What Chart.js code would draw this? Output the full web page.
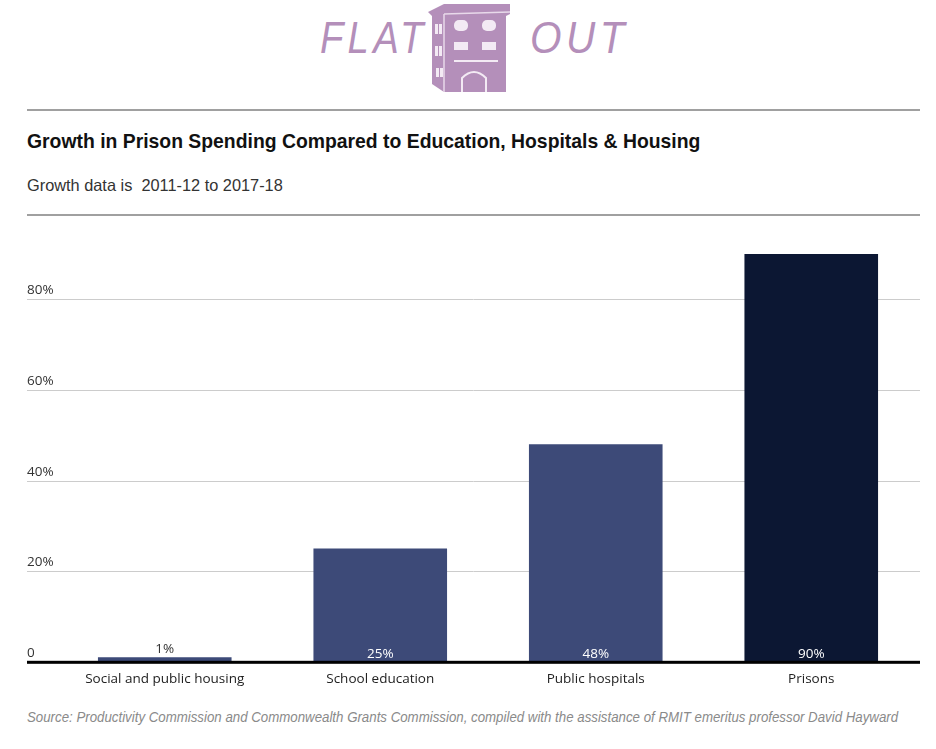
<!DOCTYPE html>
<html>
<head>
<meta charset="utf-8">
<script src="https://cdn.jsdelivr.net/npm/chart.js@4.4.0/dist/chart.umd.min.js"></script>
<style>
  body { margin: 0; background: #fff; width: 936px; height: 749px; overflow: hidden; position: relative; font-family: "Open Sans", sans-serif; }
  .logo { position: absolute; top: 0; left: 0; width: 936px; height: 100px; }
  .logo .word { position: absolute; top: 12px; font-family: "Liberation Sans", sans-serif; font-style: italic; font-size: 45px; color: #b48fba; letter-spacing: 5px; white-space: nowrap; }
  .rule { position: absolute; left: 27px; width: 893px; height: 2px; background: #a0a0a0; }
  h1 { position: absolute; left: 27px; top: 129px; margin: 0; font-family: "Liberation Sans", sans-serif; font-weight: bold; font-size: 21px; color: #111; white-space: nowrap; transform: scaleX(0.922); transform-origin: left top; }
  .sub { position: absolute; left: 27px; top: 176px; font-family: "Liberation Sans", sans-serif; font-size: 16.5px; color: #333; white-space: nowrap; transform: scaleX(0.99); transform-origin: left top; }
  .src { position: absolute; left: 27px; top: 709px; font-family: "Liberation Sans", sans-serif; font-style: italic; font-size: 14px; color: #8a8a8a; white-space: nowrap; transform: scaleX(0.948); transform-origin: left top; }
  #wrap { position: absolute; left: 0; top: 240px; width: 936px; height: 456px; }
</style>
</head>
<body>
<div class="logo">
  <div class="word" style="left:320px; transform: scaleX(0.85); transform-origin: left top;">FLAT</div>
  <svg style="position:absolute;left:424px;top:0;" width="90" height="96" viewBox="0 0 90 96">
    <polygon points="4,12 20,4 86,4 86,14 82,16 82,92 20,92 8,84 8,16" fill="#b48fba"/>
    <line x1="20" y1="14" x2="20" y2="92" stroke="#e8d9ea" stroke-width="1.5"/>
    <line x1="20" y1="14" x2="86" y2="12" stroke="#e8d9ea" stroke-width="1.5"/>
    <g fill="#f3eaf4">
      <rect x="11" y="24" width="3" height="10"/><rect x="15" y="24" width="3" height="10"/>
      <rect x="11" y="46" width="3" height="10"/><rect x="15" y="46" width="3" height="10"/>
      <rect x="12" y="68" width="3" height="9"/><rect x="16" y="68" width="3" height="9"/>
      <rect x="30" y="20" width="14" height="11" rx="5"/><rect x="58" y="20" width="14" height="11" rx="5"/>
      <rect x="30" y="42" width="14" height="8"/><rect x="58" y="42" width="14" height="8"/>
      <rect x="30" y="60" width="44" height="2"/>
    </g>
    <path d="M38 92 V78 Q50 66 62 78 V92" fill="none" stroke="#f3eaf4" stroke-width="2"/>
  </svg>
  <div class="word" style="left:530px; transform: scaleX(0.9); transform-origin: left top;">OUT</div>
</div>
<div class="rule" style="top:109px;"></div>
<h1>Growth in Prison Spending Compared to Education, Hospitals &amp; Housing</h1>
<div class="sub">Growth data is&nbsp; 2011-12 to 2017-18</div>
<div class="rule" style="top:214px;"></div>
<div id="wrap"><canvas id="myChart"></canvas></div>
<div class="src">Source: Productivity Commission and Commonwealth Grants Commission, compiled with the assistance of RMIT emeritus professor David Hayward</div>

<script>
// chart data
var categories = ['Social and public housing', 'School education', 'Public hospitals', 'Prisons'];
var growth = [1, 25, 48, 90];
var barColors = ['#3d4a78', '#3d4a78', '#3d4a78', '#0c1733'];
var yTicks = [0, 20, 40, 60, 80];
var yTickLabels = ['0', '20%', '40%', '60%', '80%'];

// gridlines, y labels, baseline and value labels drawn off the chart's own scales
var decorations = {
    id: 'decorations',
    beforeDatasetsDraw: function(chart) {
        var c = chart.ctx, y = chart.scales.y;
        c.save();
        c.font = '13.5px "Open Sans"';
        c.textAlign = 'left';
        c.textBaseline = 'bottom';
        yTicks.forEach(function(v, i) {
            var py = Math.round(y.getPixelForValue(v)) + 0.5;
            if (v !== 0) {
                c.strokeStyle = '#cccccc';
                c.lineWidth = 1;
                c.beginPath(); c.moveTo(27, py); c.lineTo(920, py); c.stroke();
            }
            c.fillStyle = '#333';
            c.fillText(yTickLabels[i], 27, py - 3);
        });
        c.restore();
    },
    afterDatasetsDraw: function(chart) {
        var c = chart.ctx, y = chart.scales.y;
        c.save();
        var base = y.getPixelForValue(0);
        c.fillStyle = '#000';
        c.fillRect(27, base - 1, 893, 3);
        c.font = '13.5px "Open Sans"';
        c.textAlign = 'center';
        c.textBaseline = 'bottom';
        chart.getDatasetMeta(0).data.forEach(function(bar, i) {
            var label = growth[i] + '%';
            if (base - bar.y > 20) {
                c.fillStyle = '#ffffff';
                c.fillText(label, bar.x, base - 1);
            } else {
                c.fillStyle = '#333';
                c.fillText(label, bar.x, bar.y - 1);
            }
        });
        c.restore();
    }
};

var ctx = document.getElementById('myChart').getContext('2d');
var myChart = new Chart(ctx, {
    type: 'bar',
    data: {
        labels: categories,
        datasets: [{
            data: growth,
            backgroundColor: barColors,
            barPercentage: 0.62,
            categoryPercentage: 1
        }]
    },
    options: {
        responsive: true,
        maintainAspectRatio: false,
        animation: false,
        layout: { padding: { left: 57, right: 17, top: 14, bottom: 0 } },
        plugins: { legend: { display: false }, tooltip: { enabled: false } },
        scales: {
            x: {
                grid: { display: false, drawTicks: false },
                border: { display: false },
                ticks: { color: '#222', font: { family: 'Open Sans', size: 13.5 }, padding: 9, maxRotation: 0 }
            },
            y: {
                display: false,
                min: 0,
                max: 90
            }
        }
    },
    plugins: [decorations]
});
</script>
</body>
</html>
